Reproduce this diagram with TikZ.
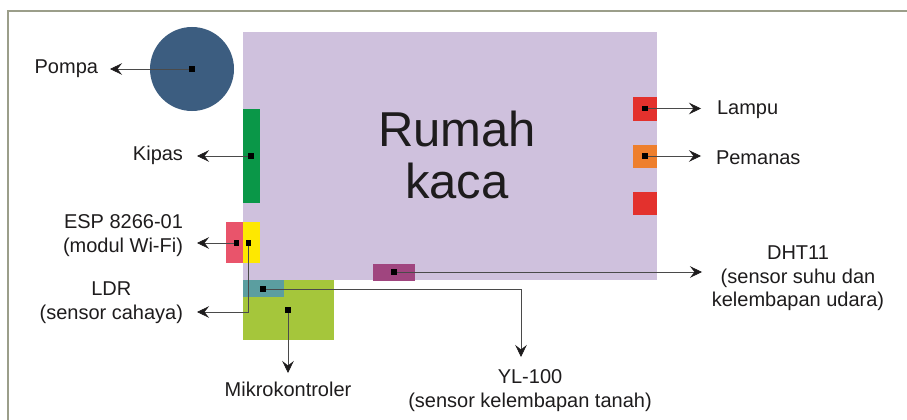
\documentclass[tikz,border=0pt]{standalone}
\usepackage{fontspec}
\setmainfont{Liberation Sans}
\usetikzlibrary{arrows.meta}

\definecolor{frameC}{HTML}{9B9E8A}
\definecolor{houseC}{HTML}{CFC1DD}
\definecolor{pumpC}{HTML}{3C5D80}
\definecolor{fanC}{HTML}{0A9748}
\definecolor{espC}{HTML}{E9546B}
\definecolor{ldrC}{HTML}{FEE800}
\definecolor{soilC}{HTML}{5B9EA0}
\definecolor{mcuC}{HTML}{A5C63B}
\definecolor{dhtC}{HTML}{A0457F}
\definecolor{lampC}{HTML}{E3312D}
\definecolor{heatC}{HTML}{EE7F2D}
\definecolor{lineC}{HTML}{4A4A4A}
\definecolor{txtC}{HTML}{1E1C1D}

\tikzset{
  blk/.style={inner sep=0pt, outer sep=0pt, anchor=north west, draw=none},
  dot/.style={fill=black, inner sep=0pt, outer sep=0pt, minimum size=5.5pt},
  conn/.style={draw=lineC, line width=0.8pt,
    -{Stealth[length=12pt, width=11.5pt, inset=4.5pt, line width=0.6pt, color=txtC]}},
  lbl/.style={inner sep=0pt, outer sep=0pt, text=txtC,
    font=\fontsize{20}{23.5}\selectfont},
}

\begin{document}
\begin{tikzpicture}[x=1pt, y=-1pt]
  \useasboundingbox (0,0) rectangle (907,420);
  \fill[white] (0,0) rectangle (907,420);

  % outer frame (top and left edges)
  \draw[frameC, line width=2pt] (907,10.7) -- (7.8,10.7) -- (7.8,420);

  % greenhouse body
  \node[blk, fill=houseC, minimum width=414pt, minimum height=248pt] (house) at (243,32) {};
  \node[lbl, anchor=north, align=center, font=\fontsize{49}{52}\selectfont] (title)
    at (457,111) {Rumah\\kaca};

  % pump
  \node[circle, fill=pumpC, inner sep=0pt, minimum size=84pt] (pump) at (192,69) {};

  % actuators and sensors
  \node[blk, fill=fanC,  minimum width=16.5pt, minimum height=94pt] (fan)  at (243,109) {};
  \node[blk, fill=espC,  minimum width=17pt,   minimum height=41pt] (esp)  at (226,222) {};
  \node[blk, fill=ldrC,  minimum width=16.5pt, minimum height=41pt] (ldr)  at (243,222) {};
  \node[blk, fill=mcuC,  minimum width=91pt,   minimum height=60pt] (mcu)  at (243,280) {};
  \node[blk, fill=soilC, minimum width=41pt,   minimum height=17pt] (soil) at (243,280) {};
  \node[blk, fill=dhtC,  minimum width=42pt,   minimum height=16.5pt] (dht) at (373,264) {};
  \node[blk, fill=lampC, minimum width=24pt,   minimum height=23.5pt] (lamp) at (633,97) {};
  \node[blk, fill=heatC, minimum width=24pt,   minimum height=23pt] (heat) at (633,145) {};
  \node[blk, fill=lampC, minimum width=24pt,   minimum height=23pt] (spare) at (633,192) {};

  % connection points
  \node[dot] (dPump) at (192,69) {};
  \node[dot] (dFan)  at (251,156) {};
  \node[dot] (dEsp)  at (236.5,243) {};
  \node[dot] (dLdr)  at (248.5,243) {};
  \node[dot] (dSoil) at (263,289) {};
  \node[dot] (dMcu)  at (288,310) {};
  \node[dot] (dDht)  at (394,272) {};
  \node[dot] (dLamp) at (645,108.5) {};
  \node[dot] (dHeat) at (645,156) {};

  % arrow ends
  \coordinate (tPump) at (110,69);
  \coordinate (tFan)  at (197,156);
  \coordinate (tEsp)  at (197,243);
  \coordinate (tLdr)  at (197,312);
  \coordinate (tSoil) at (521,357);
  \coordinate (tMcu)  at (288,373);
  \coordinate (tDht)  at (702,272);
  \coordinate (tLamp) at (701,108.5);
  \coordinate (tHeat) at (701,156);

  % labels
  \node[lbl, anchor=north east] (lPump) at (98,60) {Pompa};
  \node[lbl, anchor=north east] (lFan)  at (183,146.5) {Kipas};
  \node[lbl, anchor=north east, align=right] (lEsp) at (183,215) {ESP 8266-01\\(modul Wi-Fi)};
  \node[lbl, anchor=north east, align=center] (lLdr) at (183,282) {LDR\\(sensor cahaya)};
  \node[lbl, anchor=north] (lMcu) at (288,382.5) {Mikrokontroler};
  \node[lbl, anchor=north, align=center] (lSoil) at (530,370) {YL-100\\(sensor kelembapan tanah)};
  \node[lbl, anchor=north, align=center] (lDht) at (798,246) {DHT11\\(sensor suhu dan\\kelembapan udara)};
  \node[lbl, anchor=north west] (lLamp) at (717,100.5) {Lampu};
  \node[lbl, anchor=north west] (lHeat) at (716,150.5) {Pemanas};

  % connectors
  \draw[conn] (dPump.center) -- (tPump);
  \draw[conn] (dFan.center)  -- (tFan);
  \draw[conn] (dEsp.center)  -- (tEsp);
  \draw[conn] (dLdr.center)  |- (tLdr);
  \draw[conn] (dSoil.center) -| (tSoil);
  \draw[conn] (dMcu.center)  -- (tMcu);
  \draw[conn] (dDht.center)  -- (tDht);
  \draw[conn] (dLamp.center) -- (tLamp);
  \draw[conn] (dHeat.center) -- (tHeat);

  % redraw the dots above the connector lines
  \foreach \d in {dPump,dFan,dEsp,dLdr,dSoil,dMcu,dDht,dLamp,dHeat}
    \fill[black] (\d.south west) rectangle (\d.north east);
\end{tikzpicture}
\end{document}
